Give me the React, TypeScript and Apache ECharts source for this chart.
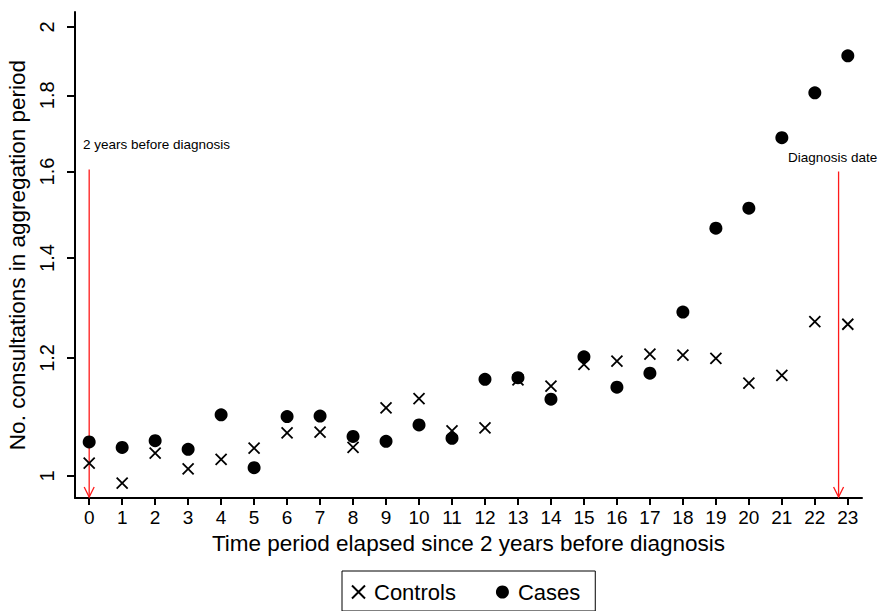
import React, { useEffect, useRef } from "react";
import * as echarts from "echarts";

const periods = [0, 1, 2, 3, 4, 5, 6, 7, 8, 9, 10, 11, 12, 13, 14, 15, 16, 17, 18, 19, 20, 21, 22, 23];
const controls = [1.020, 0.989, 1.036, 1.011, 1.026, 1.044, 1.069, 1.070, 1.045, 1.111, 1.127, 1.072, 1.077, 1.160, 1.149, 1.188, 1.194, 1.207, 1.205, 1.199, 1.154, 1.168, 1.269, 1.264];
const cases = [1.054, 1.045, 1.056, 1.042, 1.099, 1.013, 1.096, 1.097, 1.063, 1.055, 1.082, 1.060, 1.161, 1.164, 1.126, 1.202, 1.147, 1.172, 1.288, 1.466, 1.512, 1.686, 1.807, 1.913];
const yTicks = [1, 1.2, 1.4, 1.6, 1.8, 2];
// arrows: [x, top value, bottom value]
const arrows = [
  [0, 1.605, 0.968],
  [22.72, 1.6, 0.968],
];
const annotations = [
  { text: "2 years before diagnosis", left: 83, top: 137 },
  { text: "Diagnosis date", left: 788, top: 150 },
];

const FONT = "'Liberation Sans', Arial, Helvetica, sans-serif";
const X_PATH = "path://M0,0L10,10M10,0L0,10";

export default function App() {
  const ref = useRef<HTMLDivElement>(null);
  useEffect(() => {
    if (!ref.current) return;
    const chart = echarts.init(ref.current, undefined, { renderer: "svg" });
    chart.setOption({
      animation: false,
      backgroundColor: "#fff",
      textStyle: { fontFamily: FONT, color: "#000" },
      grid: { left: 75, right: 16, top: 12, bottom: 113, outerBoundsMode: "none" },
      legend: {
        data: ["Controls", "Cases"],
        left: 342,
        top: 571,
        orient: "horizontal",
        borderColor: "#000",
        borderWidth: 1,
        borderRadius: 0,
        padding: [10, 15, 8, 9],
        itemGap: 40,
        itemWidth: 13,
        itemHeight: 13,
        textStyle: { fontFamily: FONT, fontSize: 22, color: "#000", padding: [0, 0, 0, 4] },
      },
      xAxis: {
        type: "value",
        min: -0.43,
        max: 23.43,
        name: "Time period elapsed since 2 years before diagnosis",
        nameLocation: "middle",
        nameGap: 33,
        nameTextStyle: { fontFamily: FONT, fontSize: 22.5, color: "#000" },
        axisLine: { show: true, onZero: false, lineStyle: { color: "#000", width: 2 } },
        axisTick: { show: true, length: 7, lineStyle: { color: "#000", width: 2 }, customValues: periods },
        axisLabel: { fontFamily: FONT, fontSize: 19, color: "#000", margin: 10, customValues: periods, formatter: (v: number) => String(Math.round(v)) },
        splitLine: { show: false },
      },
      yAxis: {
        type: "log",
        logBase: 10,
        min: 0.9666,
        max: 2.047,
        name: "No. consultations in aggregation period",
        nameLocation: "middle",
        nameGap: 38,
        nameTextStyle: { fontFamily: FONT, fontSize: 22.5, color: "#000" },
        axisLine: { show: true, onZero: false, lineStyle: { color: "#000", width: 2 } },
        axisTick: { show: true, length: 8, lineStyle: { color: "#000", width: 2 }, customValues: yTicks },
        axisLabel: {
          fontFamily: FONT,
          fontSize: 20,
          color: "#000",
          rotate: 90,
          margin: 18,
          customValues: yTicks,
          formatter: (v: number) => String(Number(v.toFixed(1))),
        },
        splitLine: { show: false },
        minorTick: { show: false },
        minorSplitLine: { show: false },
      },
      graphic: annotations.map((a) => ({
        type: "text",
        left: a.left,
        top: a.top,
        style: { text: a.text, fontFamily: FONT, fontSize: 13.5, fill: "#000" },
      })),
      series: [
        {
          name: "Controls",
          type: "scatter",
          symbol: X_PATH,
          symbolSize: 11,
          itemStyle: { color: "rgba(0,0,0,0)", borderColor: "#000", borderWidth: 1.8, opacity: 1 },
          data: periods.map((p, i) => [p, controls[i]]),
          z: 3,
        },
        {
          name: "Cases",
          type: "scatter",
          symbol: "circle",
          symbolSize: 13,
          itemStyle: { color: "#000", opacity: 1 },
          data: periods.map((p, i) => [p, cases[i]]),
          z: 4,
        },
        {
          name: "arrows",
          type: "custom",
          silent: true,
          z: 2,
          data: arrows,
          encode: { x: 0, y: [1, 2] },
          renderItem: (params: any, api: any) => {
            const top = api.coord([api.value(0), api.value(1)]);
            const bot = api.coord([api.value(0), api.value(2)]);
            const style = { stroke: "#ff1a1a", lineWidth: 1.3, fill: "none" };
            return {
              type: "group",
              children: [
                { type: "line", shape: { x1: top[0], y1: top[1], x2: bot[0], y2: bot[1] }, style },
                {
                  type: "polyline",
                  shape: { points: [[bot[0] - 5, bot[1] - 10], [bot[0], bot[1]], [bot[0] + 5, bot[1] - 10]] },
                  style,
                },
              ],
            };
          },
        },
      ],
    });
    return () => chart.dispose();
  }, []);
  return <div ref={ref} style={{ position: "fixed", left: 0, top: 0, width: 878, height: 611 }} />;
}
